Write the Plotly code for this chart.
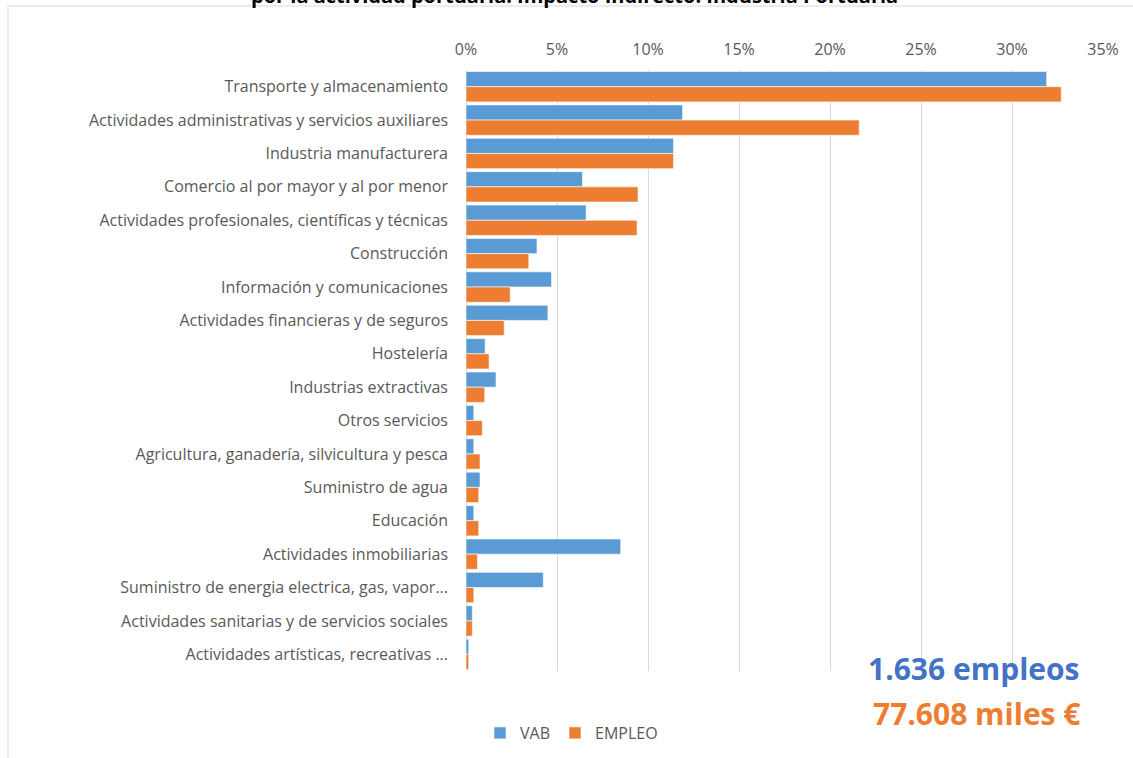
import plotly.graph_objects as go

categories = [
    "Transporte y almacenamiento",
    "Actividades administrativas y servicios auxiliares",
    "Industria manufacturera",
    "Comercio al por mayor y al por menor",
    "Actividades profesionales, científicas y técnicas",
    "Construcción",
    "Información y comunicaciones",
    "Actividades financieras y de seguros",
    "Hostelería",
    "Industrias extractivas",
    "Otros servicios",
    "Agricultura, ganadería, silvicultura y pesca",
    "Suministro de agua",
    "Educación",
    "Actividades inmobiliarias",
    "Suministro de energia electrica, gas, vapor...",
    "Actividades sanitarias y de servicios sociales",
    "Actividades artísticas, recreativas ...",
]
vab = [31.9, 11.9, 11.4, 6.4, 6.6, 3.9, 4.7, 4.5, 1.05, 1.65, 0.43, 0.43, 0.77, 0.43, 8.5, 4.25, 0.35, 0.15]
empleo = [32.7, 21.6, 11.4, 9.45, 9.4, 3.45, 2.43, 2.1, 1.27, 1.03, 0.9, 0.77, 0.7, 0.7, 0.63, 0.43, 0.35, 0.15]
x_ticks = [0, 5, 10, 15, 20, 25, 30, 35]
x_tick_labels = ["0%", "5%", "10%", "15%", "20%", "25%", "30%", "35%"]

W, H = 1133, 758
L, R, T, B = 466, 29, 70, 87
pw, ph = W - L - R, H - T - B

def px_x(x):
    return (x - L) / pw

def px_y(y):
    return (H - B - y) / ph

fig = go.Figure()
fig.add_trace(go.Bar(y=categories, x=vab, name="VAB", orientation="h",
                     marker=dict(color="#5B9BD5", line=dict(color="white", width=0.6))))
fig.add_trace(go.Bar(y=categories, x=empleo, name="EMPLEO", orientation="h",
                     marker=dict(color="#ED7D31", line=dict(color="white", width=0.6))))

font = "'Open Sans', sans-serif"
fig.update_layout(
    width=W, height=H,
    margin=dict(l=L, r=R, t=T, b=B, autoexpand=False),
    paper_bgcolor="white", plot_bgcolor="white",
    barmode="group", bargap=0.09, bargroupgap=0.0,
    font=dict(family=font, size=16, color="#595959"),
    showlegend=True,
    legend=dict(orientation="h", x=px_x(480), xanchor="left", y=px_y(733), yanchor="middle",
                font=dict(size=16, color="#595959"), traceorder="normal",
                itemwidth=30, tracegroupgap=0),
    xaxis=dict(side="top", range=[0, 35.05], tickvals=x_ticks, ticktext=x_tick_labels,
               showgrid=True, gridcolor="#d9d9d9", gridwidth=1,
               zeroline=True, zerolinecolor="#d9d9d9", zerolinewidth=1,
               showline=False, ticks="", ticklabelstandoff=11,
               tickfont=dict(size=16, color="#595959")),
    yaxis=dict(autorange="reversed", showgrid=False, zeroline=False, showline=False,
               ticks="", ticklabelstandoff=17, tickfont=dict(size=16, color="#595959")),
)

fig.add_shape(type="rect", xref="paper", yref="paper",
              x0=px_x(8), x1=px_x(1145), y0=px_y(775), y1=px_y(6),
              line=dict(color="#d9d9d9", width=1), fillcolor="rgba(0,0,0,0)", layer="below")

fig.add_annotation(text="<b>por la actividad portuaria: Impacto Indirecto. Industria Portuaria</b>",
                   xref="paper", yref="paper", x=px_x(574), y=px_y(11),
                   xanchor="center", yanchor="bottom", showarrow=False,
                   font=dict(family=font, size=20, color="#000000"))

fig.add_annotation(text="<b>1.636 empleos</b>", xref="paper", yref="paper",
                   x=px_x(1082), y=px_y(668), xanchor="right", yanchor="middle",
                   showarrow=False, font=dict(family=font, size=30, color="#4472C4"))
fig.add_annotation(text="<b>77.608 miles €</b>", xref="paper", yref="paper",
                   x=px_x(1082), y=px_y(713), xanchor="right", yanchor="middle",
                   showarrow=False, font=dict(family=font, size=30, color="#ED7D31"))

fig.write_html("out.html")
